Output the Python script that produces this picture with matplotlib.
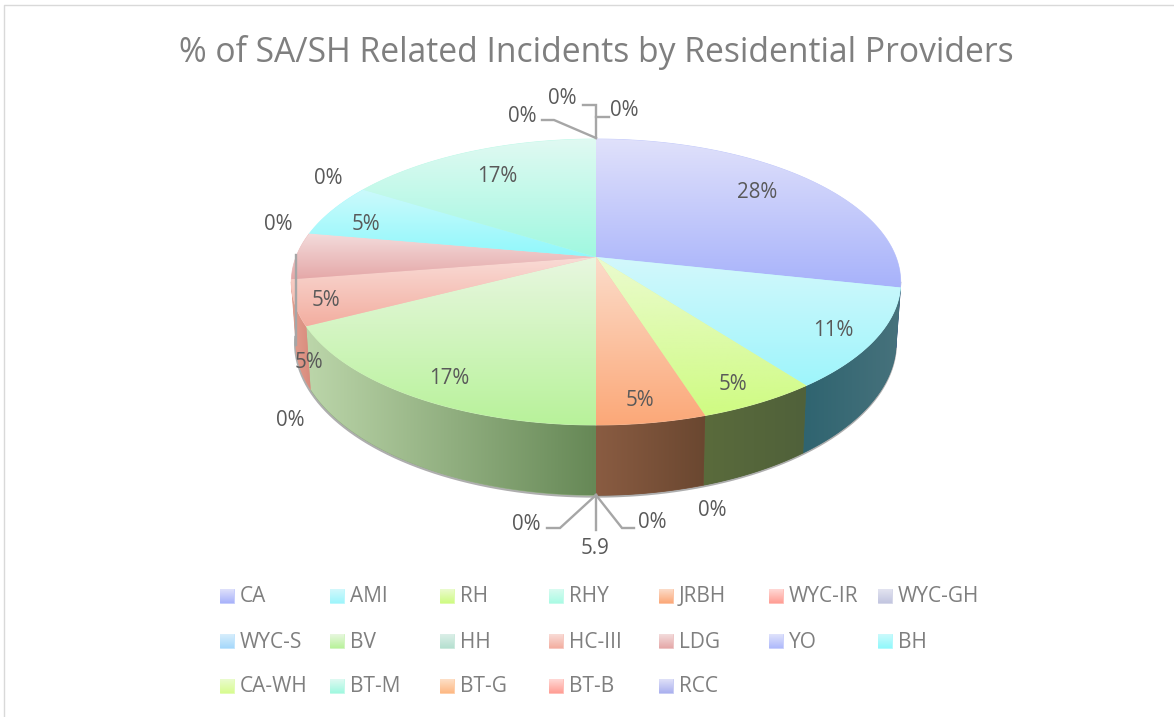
import numpy as np
import matplotlib
matplotlib.use("Agg")
import matplotlib.pyplot as plt
from matplotlib.path import Path
from matplotlib.patches import PathPatch, Rectangle
from matplotlib.colors import to_rgb

# === data
categories = ["CA", "AMI", "RH", "RHY", "JRBH", "WYC-IR", "WYC-GH", "WYC-S", "BV", "HH",
              "HC-III", "LDG", "YO", "BH", "CA-WH", "BT-M", "BT-G", "BT-B", "RCC"]
shares = [28.4, 11.3, 5.4, 0, 4.9, 0, 0, 0, 17.4, 0, 5.1, 5.3, 0, 6.1, 0, 16.1, 0, 0, 0]
value_labels = ["28%", "11%", "5%", "0%", "5%", "0%", "5.9", "0%", "17%", "0%",
                "5%", "5%", "0%", "5%", "0%", "17%", "0%", "0%", "0%"]

# === colours: light end, saturated end of the top face
top_light = ["#e0e1fa", "#d3f8fc", "#ebfbcf", "#d9fbf1", "#fcdcca", "#ffd9d6", "#e3e4f0",
             "#d8eefc", "#e8f7e0", "#dcefe8", "#f9dcd7", "#f3dcdc", "#e0e3fb", "#ccfafc",
             "#eafccf", "#e0faf2", "#fee0c8", "#ffd9d6", "#e0e1f8"]
top_dark = ["#a7b2fb", "#9ef5fb", "#cffb82", "#aafbe4", "#fba878", "#ff9d94", "#c2c5e0",
            "#a5d8fb", "#b8f29a", "#b5e0d0", "#f3aea0", "#e5a8a8", "#aeb9fb", "#90f8fb",
            "#d8fb90", "#a0f8e0", "#fdb883", "#ff9d94", "#aab0ef"]
side_left = ["#5c6ba8", "#2f6470", "#5a6b3c", "#557", "#8a5c42", "#a55", "#778", "#68a",
             "#bcd6aa", "#7a9", "#e3a090", "#d89a9a", "#66a", "#5aa", "#6a4", "#5a9", "#a75", "#a55", "#66a"]
side_right = ["#5d6d9c", "#47727c", "#50613a", "#557", "#6a4730", "#a55", "#778", "#68a",
              "#668856", "#7a9", "#d88a7c", "#c88", "#66a", "#5aa", "#6a4", "#5a9", "#a75", "#a55", "#66a"]

# === layout (pixels)
W, H = 1174, 717
CX, CY = 596, 257
RX, RY, PERSP, DEPTH = 300, 138.6, 0.175, 58
TEXT = "#595959"
LEAD = "#a6a6a6"
plt.rcParams["font.family"] = ["Open Sans", "DejaVu Sans"]

label_xy = [(757, 192), (833, 330), (733, 384), (712, 510), (640, 400), (526, 524), (595, 548),
            (652, 522), (449, 378), (290, 420), (326, 300), (309, 362), (278, 224), (366, 224),
            (328, 178), (497, 176), (522, 116), (562, 99), (624, 111)]
leader_lines = [
    ([596, 554, 542], [138, 120, 120]),
    ([596, 596, 583], [138, 105, 105]),
    ([596, 609], [117, 117]),
    ([596, 560, 547], [495, 528, 528]),
    ([596, 596], [495, 530]),
    ([596, 622, 634], [495, 528, 528]),
    ([296, 296], [255, 345]),
]
legend_x = [220, 330, 440, 549, 659, 769, 878]
legend_y = [596, 641, 686]


def project(theta, drop=0.0):
    # unit circle -> screen, clockwise from top, with perspective
    x, y = np.sin(theta), np.cos(theta)
    w = 1 + PERSP * y
    return CX + RX * x / w * (1 - 0.015 * drop), CY - RY * y / w + drop * DEPTH / w


def gradient(ax, path, c0, c1, vertical, z):
    bb = path.get_extents()
    c0, c1 = np.array(to_rgb(c0)), np.array(to_rgb(c1))
    t = np.linspace(0, 1, 256)
    rows = c0 + (c1 - c0) * t[:, None]
    img = rows[:, None, :] if vertical else rows[None, :, :]
    # solid base so the clipped edge leaves no white seam
    ax.add_patch(PathPatch(path, fc=(c0 + c1) / 2, ec=(c0 + c1) / 2, lw=0.6, zorder=z - 0.1))
    im = ax.imshow(img, extent=(bb.x0, bb.x1, bb.y1, bb.y0), origin="upper",
                   aspect="auto", zorder=z, interpolation="bilinear")
    patch = PathPatch(path, fc="none", ec="none", transform=ax.transData)
    ax.add_patch(patch)
    im.set_clip_path(patch)


def poly(xs, ys):
    v = np.column_stack([xs, ys])
    return Path(np.vstack([v, v[0]]), closed=True)


fig = plt.figure(figsize=(W / 100, H / 100), dpi=100, facecolor="white")
ax = fig.add_axes([0, 0, 1, 1])
ax.axis("off")

# === frame
ax.plot([3.5, 3.5, W], [717, 4.5, 4.5], color="#d9d9d9", lw=1, zorder=1)

# === shadow under the rim
th = np.linspace(np.radians(100), np.radians(262), 200)
sx, sy = project(th, drop=1.0)
ax.plot(sx - 0.5, sy + 1, color="#9a9a9a", lw=2, zorder=2, alpha=0.8)

# === slices
edges = np.cumsum([0] + shares) / sum(shares) * 2 * np.pi
front_from, front_to = np.radians(100), np.radians(260)
for i, v in enumerate(shares):
    if v == 0:
        continue
    # side wall, only the part facing the viewer
    a, b = max(edges[i], front_from), min(edges[i + 1], front_to)
    if b <= a:
        continue
    th = np.linspace(a, b, 80)
    xt, yt = project(th)
    xb, yb = project(th, drop=1.0)
    gradient(ax, poly(np.r_[xt, xb[::-1]], np.r_[yt, yb[::-1]]), side_left[i], side_right[i], False, 3)
for i, v in enumerate(shares):
    if v == 0:
        continue
    th = np.linspace(edges[i], edges[i + 1], 80)
    xt, yt = project(th)
    gradient(ax, poly(np.r_[CX, xt], np.r_[CY, yt]), top_light[i], top_dark[i], True, 4)

# === leader lines
for xs, ys in leader_lines:
    ax.plot(xs, ys, color=LEAD, lw=1.7, zorder=5, solid_joinstyle="miter")

# === value labels
for (x, y), s in zip(label_xy, value_labels):
    ax.text(x, y, s, ha="center", va="center", fontsize=14.8, color=TEXT, zorder=6)

# === title
ax.text(596, 52, "% of SA/SH Related Incidents by Residential Providers",
        ha="center", va="center", fontsize=24.2, color="#7f7f7f")

# === legend
for i, name in enumerate(categories):
    x = legend_x[i % 7]
    y = legend_y[i // 7]
    box = Rectangle((x, y - 7), 14, 14)
    sw = box.get_path().transformed(box.get_patch_transform())
    gradient(ax, sw, top_light[i], top_dark[i], True, 4)
    ax.text(x + 20, y + 1, name, ha="left", va="center", fontsize=15, color="#7f7f7f")

ax.set_xlim(0, W)
ax.set_ylim(H, 0)
fig.savefig("out.png", dpi=100)
